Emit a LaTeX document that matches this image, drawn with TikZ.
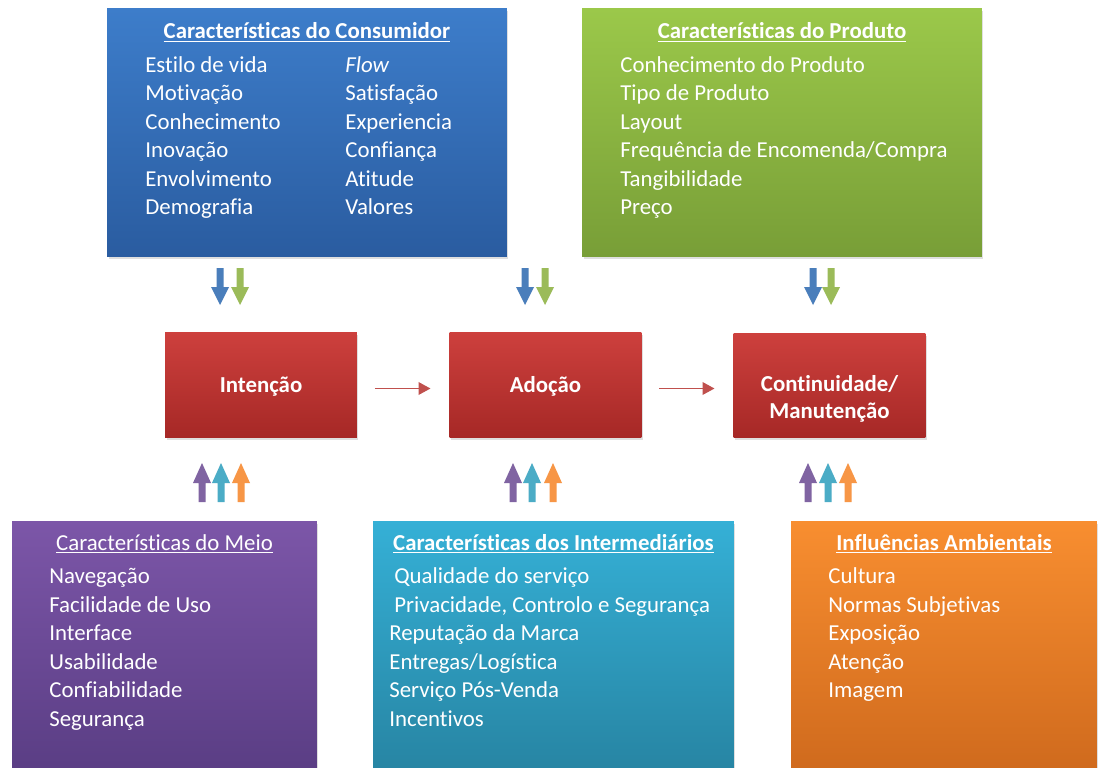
\documentclass[tikz,border=0pt]{standalone}
\usepackage{fontspec}
\setmainfont{Carlito}[Ligatures=NoCommon]
\usetikzlibrary{arrows.meta,shadows}

\definecolor{bluetop}{RGB}{61,125,202}
\definecolor{bluebot}{RGB}{42,92,160}
\definecolor{greentop}{RGB}{155,200,74}
\definecolor{greenbot}{RGB}{120,158,55}
\definecolor{redtop}{RGB}{205,64,61}
\definecolor{redbot}{RGB}{166,40,38}
\definecolor{purpletop}{RGB}{124,86,168}
\definecolor{purplebot}{RGB}{88,60,130}
\definecolor{cyantop}{RGB}{53,176,214}
\definecolor{cyanbot}{RGB}{38,130,160}
\definecolor{orangetop}{RGB}{248,142,48}
\definecolor{orangebot}{RGB}{205,104,28}
\definecolor{arrblue}{RGB}{74,126,187}
\definecolor{arrgreen}{RGB}{155,187,89}
\definecolor{arrpurple}{RGB}{128,100,162}
\definecolor{arrcyan}{RGB}{75,172,198}
\definecolor{arrorange}{RGB}{247,150,70}
\definecolor{arrred}{RGB}{192,80,77}

% block arrows: x centre, colour
\newcommand{\blockdown}[2]{\fill[#2] ({#1-3.5},268) -- ({#1+3.5},268) -- ({#1+3.5},287) -- ({#1+9},287) -- (#1,305) -- ({#1-9},287) -- ({#1-3.5},287) -- cycle;}
\newcommand{\blockup}[2]{\fill[#2] ({#1-3.5},502) -- ({#1+3.5},502) -- ({#1+3.5},483) -- ({#1+9},483) -- (#1,463) -- ({#1-9},483) -- ({#1-3.5},483) -- cycle;}

\tikzset{
    panel/.style={inner sep=0pt, outer sep=0pt, anchor=north west,
        drop shadow={shadow xshift=0.03cm, shadow yshift=-0.05cm, opacity=0.25}},
    stage/.style={panel, anchor=center, minimum width=3.84cm, minimum height=2.1cm,
        top color=redtop, bottom color=redbot},
    stagetext/.style={text=white, inner sep=0pt, align=center,
        font=\bfseries\fontsize{13}{15.3}\selectfont},
    heading/.style={text=white, inner sep=0pt, anchor=base, font=\fontsize{13}{16}\selectfont},
    entry/.style={text=white, inner sep=0pt, anchor=base west, font=\fontsize{13}{16}\selectfont},
    stagearrow/.style={draw=arrred, line width=1.1pt, -{Triangle[length=0.24cm,width=0.25cm]},
        shorten <=0.36cm, shorten >=0.38cm}
}

\begin{document}
\begin{tikzpicture}[x=0.02cm, y=-0.02cm]
    \useasboundingbox (0,0) rectangle (1104,767);
    \fill[white] (0,0) rectangle (1104,767);

    % top panels
    \node[panel, minimum width=8cm, minimum height=4.96cm, top color=bluetop, bottom color=bluebot] (consumidor) at (107,9) {};
    \node[panel, minimum width=8cm, minimum height=4.96cm, top color=greentop, bottom color=greenbot] (produto) at (582,9) {};

    \node[heading, font=\bfseries\fontsize{13}{16}\selectfont] (consumidor-t) at (307,39) {\underline{Características do Consumidor}};
    \foreach \t [count=\i from 0] in {Estilo de vida, Motivação, Conhecimento, Inovação, Envolvimento, Demografia}
        \node[entry] (consa\i) at (145,{72+28.5*\i}) {\t};
    \foreach \t [count=\i from 0] in {\textit{Flow}, Satisfação, Experiencia, Confiança, Atitude, Valores}
        \node[entry] (consb\i) at (345,{72+28.5*\i}) {\t};

    \node[heading, font=\bfseries\fontsize{13}{16}\selectfont] (produto-t) at (782,39) {\underline{Características do Produto}};
    \foreach \t [count=\i from 0] in {Conhecimento do Produto, Tipo de Produto, Layout, Frequência de Encomenda/Compra, Tangibilidade, Preço}
        \node[entry] (prod\i) at (620,{72+28.5*\i}) {\t};

    % stages
    \node[stage] (intencao) at (261,385) {};
    \node[stage] (adocao) at (545.5,385) {};
    \node[stage] (continuidade) at (829.5,385.5) {};
    \node[stagetext] (intencao-t) at (261,386.5) {Intenção};
    \node[stagetext] (adocao-t) at (545.5,386.5) {Adoção};
    \node[stagetext] (continuidade-t) at (829.5,398.5) {Continuidade/\\Manutenção};

    \draw[stagearrow] ([yshift=-0.07cm]intencao.east) -- ([yshift=-0.07cm]adocao.west);
    \draw[stagearrow] ([yshift=-0.07cm]adocao.east) -- ([yshift=-0.07cm]adocao.east -| continuidade.west);

    % block arrows
    \blockdown{220}{arrblue} \blockdown{240}{arrgreen}
    \blockdown{525}{arrblue} \blockdown{545}{arrgreen}
    \blockdown{813}{arrblue} \blockdown{831}{arrgreen}
    \blockup{202}{arrpurple} \blockup{221}{arrcyan} \blockup{241}{arrorange}
    \blockup{513}{arrpurple} \blockup{532}{arrcyan} \blockup{553}{arrorange}
    \blockup{808}{arrpurple} \blockup{828}{arrcyan} \blockup{848}{arrorange}

    % bottom panels
    \node[panel, minimum width=6.1cm, minimum height=5.3cm, top color=purpletop, bottom color=purplebot] (meio) at (12,521) {};
    \node[panel, minimum width=7.22cm, minimum height=5.3cm, top color=cyantop, bottom color=cyanbot] (intermediarios) at (373,521) {};
    \node[panel, minimum width=6.12cm, minimum height=5.3cm, top color=orangetop, bottom color=orangebot] (ambiente) at (791,521) {};

    \node[heading] (meio-t) at (164.5,550) {\underline{Características do Meio}};
    \foreach \t [count=\i from 0] in {Navegação, Facilidade de Uso, Interface, Usabilidade, Confiabilidade, Segurança}
        \node[entry] (meio\i) at (49,{583.5+28.5*\i}) {\t};

    \node[heading, font=\bfseries\fontsize{13}{16}\selectfont] (intermediarios-t) at (553.5,550) {\underline{Características dos Intermediários}};
    \node[entry] (inter0) at (394,583.5) {Qualidade do serviço};
    \node[entry] (inter1) at (394,612) {Privacidade, Controlo e Segurança};
    \foreach \t [count=\i from 2] in {Reputação da Marca, Entregas/Logística, Serviço Pós-Venda, Incentivos}
        \node[entry] (inter\i) at (389,{583.5+28.5*\i}) {\t};

    \node[heading, font=\bfseries\fontsize{13}{16}\selectfont] (ambiente-t) at (944,550) {\underline{Influências Ambientais}};
    \foreach \t [count=\i from 0] in {Cultura, Normas Subjetivas, Exposição, Atenção, Imagem}
        \node[entry] (amb\i) at (828,{583.5+28.5*\i}) {\t};
\end{tikzpicture}
\end{document}
